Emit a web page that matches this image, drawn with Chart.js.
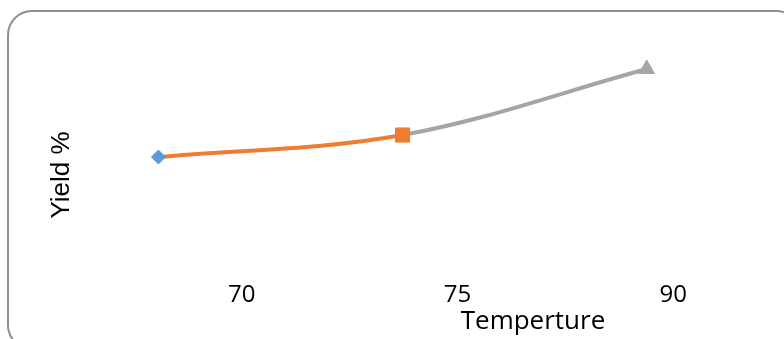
<!DOCTYPE html>
<html lang="en">
  <head>
    <meta charset="UTF-8" />
    <title>Yield vs Temperture</title>
    <script src="https://cdn.jsdelivr.net/npm/chart.js@4"></script>
    <style>
      html, body { margin: 0; padding: 0; background: #fff; }
      #wrap { position: relative; width: 784px; height: 339px; overflow: hidden; }
      #frame {
        position: absolute; left: 7px; top: 10px; width: 790px; height: 336px;
        border: 2px solid #8e8e8e; border-radius: 25px;
      }
      #chart { position: absolute; left: 0; top: 0; }
    </style>
  </head>
  <body>
    <div id="wrap">
      <div id="frame"></div>
      <canvas id="chart" width="784" height="339"></canvas>
    </div>
    <script>
      // data
      const temps = ["70", "75", "90"];
      const yields = [70, 75, 90];
      const pointColors = ["#5b9bd5", "#ed7d31", "#a5a5a5"];
      const pointShapes = ["rectRot", "rect", "triangle"];
      const pointSizes = [7, 10, 9];
      const xTitle = "Temperture";
      const yTitle = "Yield %";

      // titles sit off-centre in the original, so draw them by hand
      const axisTitles = {
        id: "axisTitles",
        afterDraw(chart) {
          const ctx = chart.ctx;
          ctx.save();
          ctx.fillStyle = "#000";
          ctx.textAlign = "center";
          ctx.textBaseline = "middle";
          ctx.font = '26px "Open Sans"';
          ctx.fillText(xTitle, 533, 322);
          ctx.translate(62, 175);
          ctx.rotate(-Math.PI / 2);
          ctx.font = '26px "Liberation Sans"';
          ctx.fillText(yTitle, 0, 0);
          ctx.restore();
        },
      };

      new Chart(document.getElementById("chart"), {
        type: "line",
        data: {
          datasets: [
            {
              data: yields.map((v, i) => ({ x: i, y: v })),
              xAxisID: "xp",
              borderWidth: 4,
              tension: 0.35,
              segment: {
                borderColor: (c) => pointColors[c.p1DataIndex] === "#a5a5a5" ? "#a5a5a5" : "#ed7d31",
              },
              pointStyle: pointShapes,
              pointRadius: pointSizes,
              pointBackgroundColor: pointColors,
              pointBorderColor: pointColors,
              pointBorderWidth: 1,
            },
          ],
        },
        options: {
          responsive: false,
          animation: false,
          layout: { autoPadding: false, padding: { left: 134, right: 3, top: 25, bottom: 21 } },
          plugins: { legend: { display: false }, tooltip: { enabled: false } },
          scales: {
            x: {
              type: "category",
              labels: temps,
              offset: true,
              grid: { display: false, drawTicks: false },
              border: { display: false },
              ticks: { color: "#000", padding: 8, font: { family: "Open Sans", size: 24 } },
            },
            xp: { type: "linear", display: false, min: -0.1, max: 2.55 },
            y: { display: false, min: 43.6, max: 100 },
          },
        },
        plugins: [axisTitles],
      });
    </script>
  </body>
</html>
